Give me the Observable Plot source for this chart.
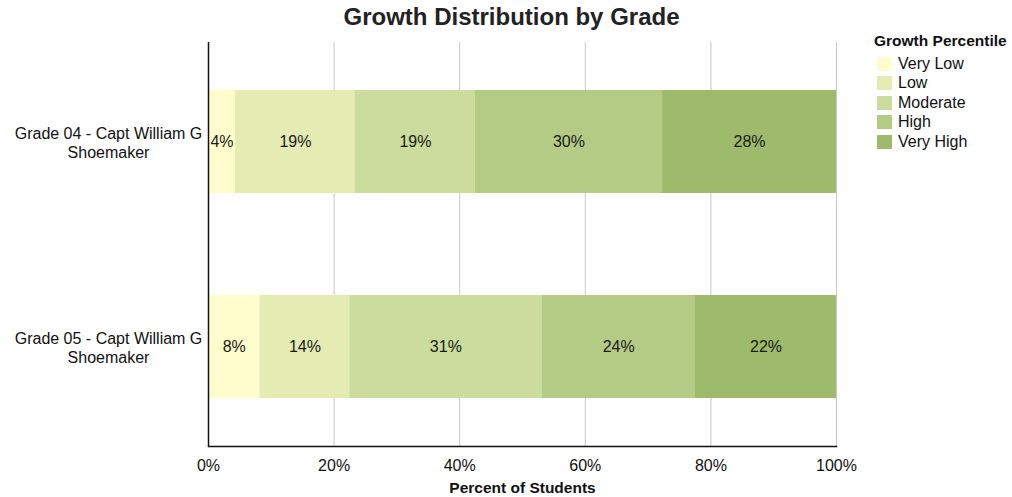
<!DOCTYPE html>
<html>
<head>
<meta charset="utf-8">
<script src="https://cdn.jsdelivr.net/npm/d3@7"></script>
<script src="https://cdn.jsdelivr.net/npm/@observablehq/plot@0.6"></script>
<style>
  html, body { margin: 0; padding: 0; background: #fff; }
  body { font-family: "Liberation Sans", Arial, sans-serif; }
  #wrap { position: relative; width: 1012px; height: 497px; overflow: hidden; }
  #title { position: absolute; left: 0; width: 1023px; top: 3px; text-align: center;
           font-size: 24px; font-weight: bold; color: #222; }
  #legend { position: absolute; left: 874px; top: 32px; font-size: 16px; color: #111; }
  #legend .lt { font-weight: bold; font-size: 15.5px; margin-bottom: 4px; }
  #legend .item { display: flex; align-items: center; height: 19.5px; }
  #legend .sw { width: 15px; height: 14px; margin-left: 3px; margin-right: 6px; }
  #chart { position: absolute; left: 0; top: 0; }
</style>
</head>
<body>
<div id="wrap">
  <div id="chart"></div>
  <div id="title">Growth Distribution by Grade</div>
  <div id="legend"></div>
</div>
<script>
// ---- data ----
const grades = ["Grade 04 - Capt William G Shoemaker", "Grade 05 - Capt William G Shoemaker"];
const gradeLabels = ["Grade 04 - Capt William G\nShoemaker", "Grade 05 - Capt William G\nShoemaker"];
const levels = ["Very Low", "Low", "Moderate", "High", "Very High"];
const colors = ["#fffdcc", "#e4ebb3", "#ccdc9c", "#b4cb86", "#9dbb6b"];
const grade04Pct = [4.3, 19.1, 19.1, 29.8, 27.7];
const grade05Pct = [8.2, 14.3, 30.6, 24.45, 22.45];
const xTicks = [0, 20, 40, 60, 80, 100];

const seriesByGrade = [grade04Pct, grade05Pct];
const rows = [];
grades.forEach((g, gi) => levels.forEach((l, li) => rows.push({grade: g, level: l, value: seriesByGrade[gi][li]})));
const labelOf = new Map(grades.map((g, i) => [g, gradeLabels[i]]));

const chart = Plot.plot({
  width: 1012,
  height: 497,
  marginLeft: 208,
  marginRight: 176,
  marginTop: 42,
  marginBottom: 51,
  style: {fontFamily: "'Liberation Sans', Arial, sans-serif", fontSize: "16px", color: "#111", background: "transparent"},
  x: {domain: [0, 100], ticks: xTicks},
  y: {domain: grades, paddingInner: 0.5, paddingOuter: 0.235},
  color: {domain: levels, range: colors},
  marks: [
    Plot.gridX(xTicks, {stroke: "#c8c8c8", strokeOpacity: 1, strokeWidth: 1}),
    Plot.barX(rows, Plot.stackX({x: "value", y: "grade", z: "level", order: levels, fill: "level"})),
    Plot.text(rows, Plot.stackX({x: "value", y: "grade", z: "level", order: levels,
      text: d => Math.round(d.value) + "%", fill: "#1a1a1a", fontSize: 16})),
    Plot.ruleX([0], {stroke: "#111", strokeWidth: 1.5}),
    Plot.frame({anchor: "bottom", stroke: "#111", strokeWidth: 1.5}),
    Plot.axisX(xTicks, {tickSize: 0, tickPadding: 13, tickFormat: d => d + "%", fontSize: 16, label: null}),
    Plot.axisX({label: "Percent of Students", labelAnchor: "center", labelArrow: "none", labelOffset: 46,
      ticks: [], tickSize: 0, fontSize: 15.5, fontWeight: "bold"}),
    Plot.axisY({tickSize: 0, tickPadding: 0, textAnchor: "middle", dx: -100, fontSize: 16,
      tickFormat: g => labelOf.get(g), label: null, lineHeight: 1.2})
  ]
});
document.getElementById("chart").appendChild(chart);

// legend
const lg = document.getElementById("legend");
const lt = document.createElement("div"); lt.className = "lt"; lt.textContent = "Growth Percentile"; lg.appendChild(lt);
levels.forEach((l, i) => {
  const it = document.createElement("div"); it.className = "item";
  const sw = document.createElement("span"); sw.className = "sw"; sw.style.background = colors[i];
  const tx = document.createElement("span"); tx.textContent = l;
  it.appendChild(sw); it.appendChild(tx); lg.appendChild(it);
});
</script>
</body>
</html>
